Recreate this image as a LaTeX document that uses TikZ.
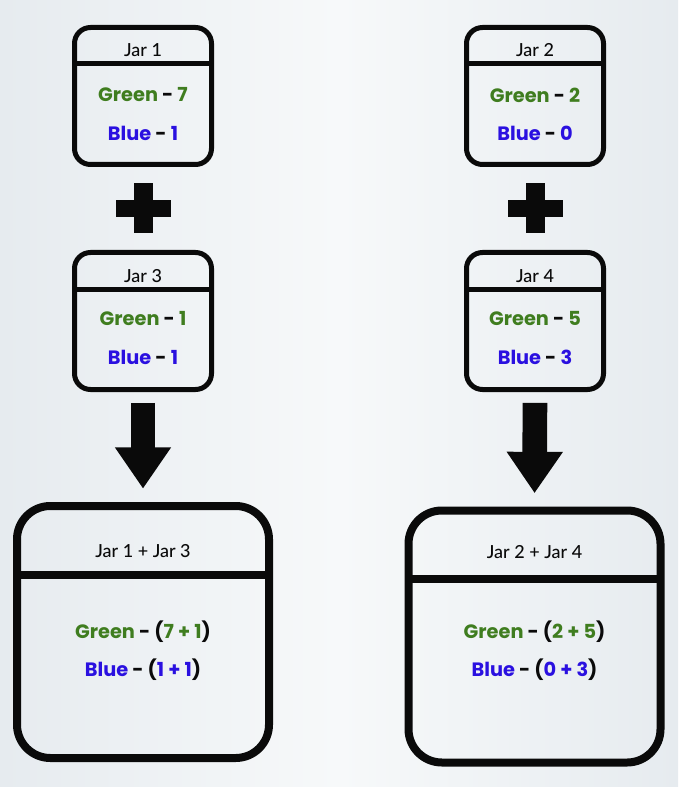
\documentclass[tikz,border=0pt]{standalone}
\usepackage{fontspec}
\setmainfont{Lato}
\newfontfamily\titlefont{Lato Medium}
\newfontfamily\valfont{Poppins}
\usepackage{tikz}
\usetikzlibrary{arrows.meta, positioning, calc}
\definecolor{jGreen}{HTML}{3F7D1F}
\definecolor{jBlue}{HTML}{2A10E0}
\definecolor{jDark}{HTML}{0A0A0A}
\definecolor{bgEdge}{HTML}{E6EBEF}
\definecolor{bgMid}{HTML}{F7F9FA}
\newcommand{\gr}[1]{\textcolor{jGreen}{#1}}
\newcommand{\bl}[1]{\textcolor{jBlue}{#1}}

\begin{document}
\begin{tikzpicture}[
    x=0.75pt, y=-0.75pt,
    jar/.style={draw=jDark, line width=3.75pt, rounded corners=12pt, minimum width=102.75pt, minimum height=102.75pt, outer sep=0pt, inner sep=0pt},
    bigjar/.style={jar, line width=6pt, rounded corners=25pt, minimum width=189pt, minimum height=189pt},
    title/.style={font=\titlefont\fontsize{13.5}{15}\selectfont, text=jDark},
    count/.style={font=\valfont\bfseries\fontsize{14.5}{16}\selectfont, text=jDark},
    sep/.style={line width=3.75pt, jDark},
    bigsep/.style={line width=6pt, jDark},
    flow/.style={-{Triangle[length=31pt, width=40pt]}, line width=18.5pt, jDark, shorten <=10pt, shorten >=13pt}
]
    \shade[left color=bgEdge, right color=bgEdge, middle color=bgMid] (0,0) rectangle (678,787);
    \useasboundingbox (0,0) rectangle (678,787);

    % first column
    \node[jar] (jar1) at (143,96) {};
    \draw[sep] (jar1.west |- 0,64) -- (jar1.east |- 0,64);
    \node[title] (t1) at (143,50) {Jar 1};
    \node[count] (g1) at (143,95) {\gr{Green} - \gr{7}};
    \node[count] (b1) at (143,133) {\bl{Blue} - \bl{1}};

    \node[jar] (jar3) at (143,321) {};
    \draw[sep] (jar3.west |- 0,290) -- (jar3.east |- 0,290);
    \node[title] (t3) at (143,276) {Jar 3};
    \node[count] (g3) at (143,319) {\gr{Green} - \gr{1}};
    \node[count] (b3) at (143,357) {\bl{Blue} - \bl{1}};

    \node[bigjar] (sum13) at (143,632) {};
    \draw[bigsep] (sum13.west |- 0,575) -- (sum13.east |- 0,575);
    \node[title] (t13) at (143,551) {Jar 1 + Jar 3};
    \node[count] (g13) at (143,632) {\gr{Green} - (\gr{7 + 1})};
    \node[count] (b13) at (143,670) {\bl{Blue} - (\bl{1 + 1})};

    % second column
    \node[jar] (jar2) at (535,96) {};
    \draw[sep] (jar2.west |- 0,64) -- (jar2.east |- 0,64);
    \node[title] (t2) at (535,50) {Jar 2};
    \node[count] (g2) at (535,95) {\gr{Green} - \gr{2}};
    \node[count] (b2) at (535,133) {\bl{Blue} - \bl{0}};

    \node[jar] (jar4) at (535,321) {};
    \draw[sep] (jar4.west |- 0,290) -- (jar4.east |- 0,290);
    \node[title] (t4) at (535,276) {Jar 4};
    \node[count] (g4) at (535,319) {\gr{Green} - \gr{5}};
    \node[count] (b4) at (535,357) {\bl{Blue} - \bl{3}};

    \node[bigjar] (sum24) at (534.5,636.5) {};
    \draw[bigsep] (sum24.west |- 0,579) -- (sum24.east |- 0,579);
    \node[title] (t24) at (534.5,552) {Jar 2 + Jar 4};
    \node[count] (g24) at (534.5,632) {\gr{Green} - (\gr{2 + 5})};
    \node[count] (b24) at (534.5,670) {\bl{Blue} - (\bl{0 + 3})};

    % plus signs
    \coordinate (plusA) at ($(jar1.south)!0.5!(jar3.north)$);
    \coordinate (plusB) at ($(jar2.south)!0.5!(jar4.north)$);
    \fill[jDark] (plusA) ++(-27.5,-8.5) rectangle ++(55,17);
    \fill[jDark] (plusA) ++(-9.5,-25) rectangle ++(19,50);
    \fill[jDark] (plusB) ++(-27.5,-8.5) rectangle ++(55,17);
    \fill[jDark] (plusB) ++(-9.5,-25) rectangle ++(19,50);

    % arrows
    \draw[flow] (jar3.south) -- (sum13.north);
    \draw[flow] (jar4.south) -- (sum24.north);
\end{tikzpicture}
\end{document}
